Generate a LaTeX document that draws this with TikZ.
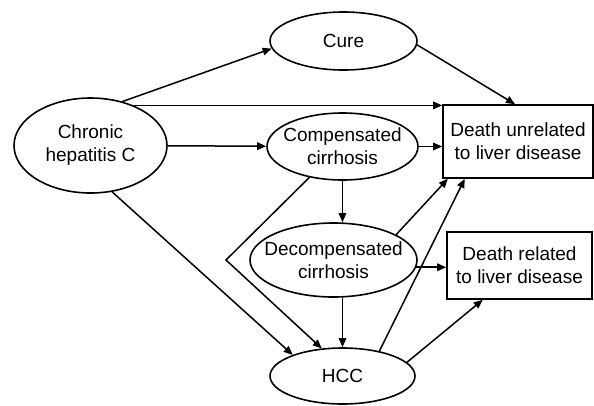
\documentclass[tikz,border=0pt]{standalone}
\usepackage{fontspec}
\setmainfont{Liberation Sans}
\usetikzlibrary{shapes.geometric,arrows.meta,calc}
\begin{document}
\begin{tikzpicture}[x=1pt,y=-1pt,
  every node/.style={font=\fontsize{19}{23}\selectfont, align=center, inner sep=0pt},
  ell/.style={draw, line width=1.6pt, ellipse, inner xsep=-25pt, inner ysep=-15pt},
  box/.style={draw, line width=1.6pt, rectangle},
  arr/.style={line width=1.5pt, -{Triangle[length=9pt,width=7.5pt]}}]
\useasboundingbox (0,0) rectangle (594,405);
\node[ell, minimum width=153pt, minimum height=95pt] (chc) at (90.5,145.5) {Chronic\\hepatitis C};
\node[ell, minimum width=147pt, minimum height=58pt] (cure) at (343.5,41) {Cure};
\node[ell, minimum width=151pt, minimum height=67pt] (comp) at (342.5,146.5) {Compensated\\cirrhosis};
\node[ell, minimum width=167pt, minimum height=74pt] (dec) at (333.5,260) {Decompensated\\cirrhosis};
\node[ell, minimum width=145pt, minimum height=56pt] (hcc) at (342.5,376) {HCC};
\node[box, minimum width=150pt, minimum height=73pt] (du) at (518,141.5) {Death unrelated\\to liver disease};
\node[box, minimum width=145pt, minimum height=67pt] (dr) at (519.5,265.5) {Death related\\to liver disease};
\coordinate (bend) at (226,260);

\draw[arr] (chc.54) -- (cure.186);
\draw[arr] (chc.43) -- (chc.43 -| du.west);
\draw[arr] (chc) -- (comp);
\draw[arr] (chc.-65) -- (hcc.157);
\draw[arr] (cure.-3) -- ($(du.north)+(-3,0)$);
\draw[arr] (comp.east) -- (comp.east -| du.west);
\draw[arr] (comp.south) -- (comp.south |- dec.north);
\draw[arr] (comp.223) -- (bend) -- (hcc.127);
\draw[arr] (hcc.north |- dec.south) -- (hcc.north);
\draw[arr] (dec.-5) -- (dec.-5 -| dr.west);
\draw[arr] (dec.22) -- (du.208);
\draw[arr] (hcc.34) -- (du.215);
\draw[arr] (hcc.12) -- (dr.223);
\end{tikzpicture}
\end{document}
